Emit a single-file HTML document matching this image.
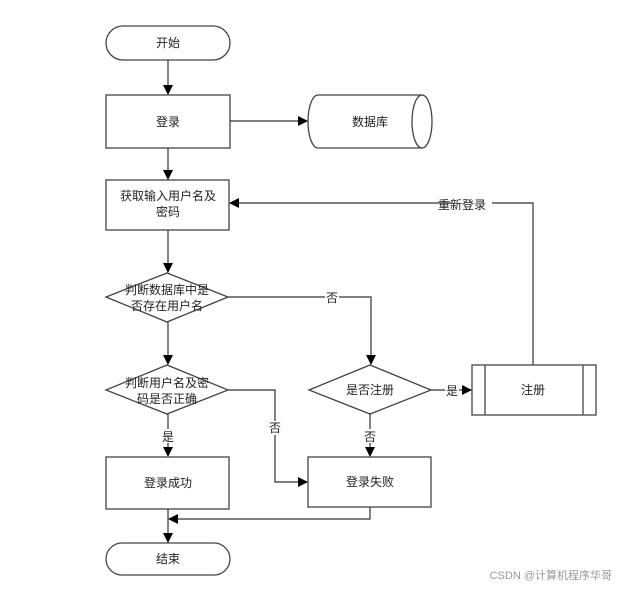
<!DOCTYPE html>
<html><head><meta charset="utf-8"><style>
body{margin:0;background:#fff}
svg text{font-family:"Liberation Sans","Noto Sans CJK SC",sans-serif;font-size:12px;fill:#222}
</style></head><body>
<svg width="619" height="586" viewBox="0 0 619 586" xmlns="http://www.w3.org/2000/svg">
<defs><marker id="a" markerWidth="10" markerHeight="10" refX="9" refY="5" orient="auto" markerUnits="userSpaceOnUse"><path d="M0,0 L10,5 L0,10 z" fill="#000"/></marker></defs>
<g stroke="#444" stroke-width="1.3" fill="#fff">
<rect x="106" y="26" width="124" height="34" rx="17"/>
<rect x="106" y="95" width="124" height="53"/>
<path d="M318,95 H422 A10,26.5 0 0 1 422,148 H318 A10,26.5 0 0 1 318,95 Z"/>
<path d="M422,95 A10,26.5 0 0 0 422,148" fill="none"/>
<rect x="106" y="180" width="123" height="50"/>
<polygon points="106,297 167,273 228,297 167,322"/>
<polygon points="106,390 167,365 228,390 167,414"/>
<polygon points="309,390 370,365 431,390 370,414"/>
<rect x="472" y="365" width="124" height="50"/>
<line x1="485" y1="365" x2="485" y2="415"/><line x1="583" y1="365" x2="583" y2="415"/>
<rect x="106" y="457" width="123" height="52"/>
<rect x="308" y="457" width="123" height="50"/>
<rect x="106" y="543" width="124" height="32" rx="16"/>
</g>
<g stroke="#333" stroke-width="1.2" fill="none" marker-end="url(#a)">
<line x1="168" y1="60" x2="168" y2="94"/>
<line x1="230" y1="121" x2="307" y2="121"/>
<line x1="168" y1="148" x2="168" y2="179"/>
<line x1="168" y1="230" x2="168" y2="272"/>
<line x1="168" y1="322" x2="168" y2="364"/>
<polyline points="228,297 371,297 371,364"/>
<line x1="168" y1="414" x2="168" y2="456"/>
<polyline points="228,390 275,390 275,482 307,482"/>
<line x1="431" y1="390" x2="471" y2="390"/>
<line x1="370" y1="414" x2="370" y2="456"/>
<polyline points="533,365 533,203 230,203"/>
<polyline points="370,507 370,519 169,519"/>
<line x1="168" y1="509" x2="168" y2="542"/>
</g>
<g text-anchor="middle">
<text x="168" y="47">开始</text>
<text x="168" y="126">登录</text>
<text x="370" y="126">数据库</text>
<text x="168" y="200">获取输入用户名及</text>
<text x="168" y="216">密码</text>
<text x="167" y="294">判断数据库中是</text>
<text x="167" y="310">否存在用户名</text>
<text x="167" y="387">判断用户名及密</text>
<text x="167" y="403">码是否正确</text>
<text x="370" y="394">是否注册</text>
<text x="533" y="394">注册</text>
<text x="168" y="487">登录成功</text>
<text x="370" y="486">登录失败</text>
<text x="168" y="563">结束</text>
</g>
<g text-anchor="middle">
<rect x="452" y="197" width="40" height="14" fill="#fff"/><text x="462" y="209">重新登录</text>
<rect x="325" y="291" width="14" height="14" fill="#fff"/><text x="332" y="302">否</text>
<rect x="268" y="421" width="14" height="14" fill="#fff"/><text x="275" y="432">否</text>
<rect x="161" y="429" width="14" height="14" fill="#fff"/><text x="168" y="441">是</text>
<rect x="445" y="383" width="14" height="14" fill="#fff"/><text x="452" y="395">是</text>
<rect x="363" y="429" width="14" height="14" fill="#fff"/><text x="370" y="441">否</text>
</g>
<text x="612" y="579" text-anchor="end" style="font-size:11px;fill:#999">CSDN @计算机程序华哥</text>
</svg>
</body></html>
